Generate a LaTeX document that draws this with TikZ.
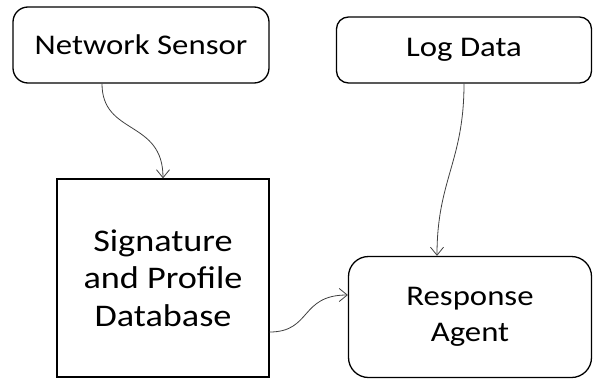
\documentclass[tikz,border=0pt]{standalone}
\usepackage{fontspec}
\setmainfont{Carlito}[FakeStretch=1.15]
\usetikzlibrary{arrows.meta, positioning}

\begin{document}
\begin{tikzpicture}[x=1pt, y=-1pt,
    roundbox/.style={draw, line width=1.3pt, rounded corners=15pt, align=center,
        inner sep=0pt, font=\fontsize{28.5}{36}\selectfont},
    plainbox/.style={draw, line width=1.3pt, align=center, inner sep=0pt,
        font=\fontsize{31.5}{37.5}\selectfont},
    link/.style={draw=black!75, line width=0.8pt, -{Straight Barb[length=8pt, width=13pt]}}]
    % Fix the canvas to the reference size
    \useasboundingbox (0,0) rectangle (594,380);

    % Boxes
    \node[roundbox, minimum width=256pt, minimum height=76pt] (sensor) at (141,45) {Network Sensor};
    \node[roundbox, minimum width=255pt, minimum height=66pt, rounded corners=12pt] (logdata) at (464,50) {Log Data};
    \node[plainbox, minimum width=212pt, minimum height=198pt] (sigdb) at (163,278) {Signature\\and Profile\\Database};
    \node[roundbox, minimum width=243pt, minimum height=121pt, rounded corners=20pt] (agent) at (470,317) {Response\\Agent};

    % Connectors (curved)
    \draw[link] ([xshift=-39pt]sensor.south) .. controls +(0,52) and +(0,-59) .. (sigdb.north);
    \draw[link] (logdata.south) .. controls +(0,78) and +(0,-76) .. ([xshift=-33pt]agent.north);
    \draw[link] ([yshift=-54pt]sigdb.east) .. controls +(42,0) and +(-48,0) .. ([yshift=22pt]agent.west);
\end{tikzpicture}
\end{document}
